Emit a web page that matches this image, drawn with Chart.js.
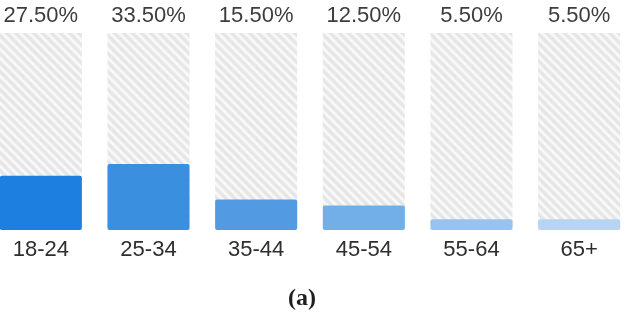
<!DOCTYPE html>
<html>
<head>
<meta charset="utf-8">
<script src="https://cdn.jsdelivr.net/npm/chart.js@4.4.0/dist/chart.umd.min.js"></script>
<style>
  html, body { margin: 0; padding: 0; background: #fff; overflow: hidden; }
  #wrap { position: absolute; left: -13px; top: 0; width: 646px; height: 315px; }
</style>
</head>
<body>
<div id="wrap"><canvas id="c"></canvas></div>
<script>
const categories = ['18-24', '25-34', '35-44', '45-54', '55-64', '65+'];
const shares = [27.5, 33.5, 15.5, 12.5, 5.5, 5.5];
const fullShare = [100, 100, 100, 100, 100, 100];
const barColors = ['#1d7fe0', '#3a8fde', '#529be2', '#72afe8', '#98c3ee', '#b7d5f2'];
const panelLabel = '(a)';

function makeHatch() {
  const s = 9;
  const c = document.createElement('canvas');
  c.width = s; c.height = s;
  const g = c.getContext('2d');
  g.fillStyle = '#e6e6e6';
  g.fillRect(0, 0, s, s);
  g.strokeStyle = '#f8f8f8';
  g.lineWidth = 3;
  g.beginPath();
  g.moveTo(-2, -2); g.lineTo(s + 2, s + 2);
  g.moveTo(-2, s - 2); g.lineTo(2, s + 2);
  g.moveTo(s - 2, -2); g.lineTo(s + 2, 2);
  g.stroke();
  return g.createPattern(c, 'repeat');
}

const labelPlugin = {
  id: 'labels',
  afterDraw(chart) {
    const ctx = chart.ctx;
    const meta = chart.getDatasetMeta(0);
    ctx.save();
    ctx.fillStyle = '#3d3d3d';
    ctx.font = '22px "Liberation Sans", Arial, sans-serif';
    ctx.textAlign = 'center';
    ctx.textBaseline = 'alphabetic';
    meta.data.forEach((bar, i) => {
      ctx.fillText(shares[i].toFixed(2) + '%', bar.x, 22);
    });
    ctx.fillStyle = '#1e1e1e';
    ctx.font = 'bold 24px "Liberation Serif", "Times New Roman", serif';
    ctx.fillText(panelLabel, 315, 305);
    ctx.restore();
  }
};

new Chart(document.getElementById('c'), {
  type: 'bar',
  data: {
    labels: categories,
    datasets: [
      {
        data: shares,
        backgroundColor: barColors,
        borderWidth: 0,
        borderRadius: 2,
        borderSkipped: false,
        barPercentage: 0.762,
        categoryPercentage: 1
      },
      {
        data: fullShare,
        backgroundColor: makeHatch(),
        borderWidth: 0,
        barPercentage: 0.762,
        categoryPercentage: 1
      }
    ]
  },
  options: {
    responsive: true,
    maintainAspectRatio: false,
    animation: false,
    layout: { padding: { top: 33, left: 0, right: 0, bottom: 0 } },
    datasets: { bar: { grouped: false } },
    plugins: { legend: { display: false }, tooltip: { enabled: false } },
    scales: {
      x: {
        grid: { display: false, drawTicks: false },
        border: { display: false },
        ticks: {
          color: '#2e2e2e',
          padding: 7,
          font: { size: 22, family: '"Liberation Sans", Arial, sans-serif' }
        },
        afterFit(scale) { scale.height = 85; }
      },
      y: {
        display: false,
        min: 0,
        max: 100
      }
    }
  },
  plugins: [labelPlugin]
});
</script>
</body>
</html>
